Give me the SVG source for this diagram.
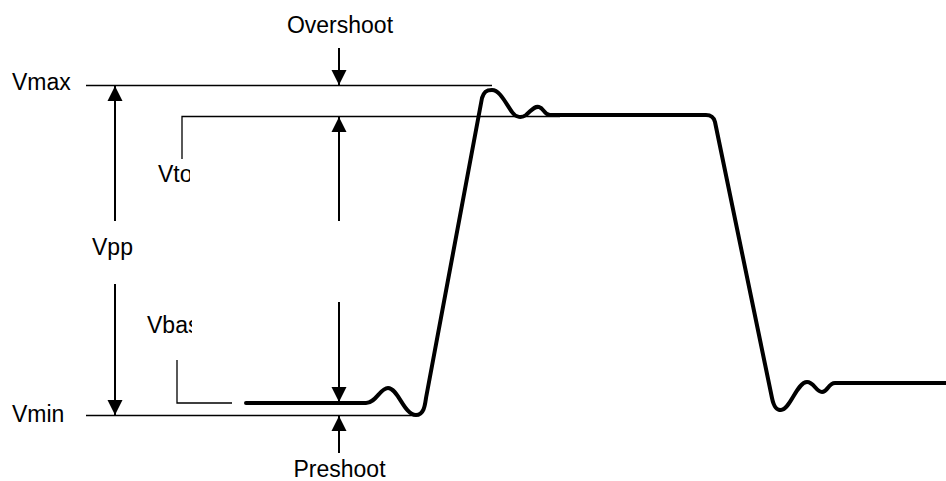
<svg xmlns="http://www.w3.org/2000/svg" width="946" height="481" viewBox="0 0 946 481">
<style>
text{font-family:"Liberation Sans",Arial,sans-serif;font-size:23px;fill:#000}
.ref{stroke:#000;stroke-width:1.6;fill:none}
.thin{stroke:#000;stroke-width:1.3;fill:none}
.arr{stroke:#000;stroke-width:2;fill:none}
.wave{stroke:#000;stroke-width:4;fill:none;stroke-linecap:round;stroke-linejoin:round}
</style>
<defs>
<marker id="ah" markerWidth="16" markerHeight="16" viewBox="0 0 16 15" refX="15" refY="7.5" orient="auto" markerUnits="userSpaceOnUse">
<path d="M0,0 L15,7.5 L0,15 Z" fill="#000"/>
</marker>
<clipPath id="cTop"><rect x="140" y="150" width="50" height="45"/></clipPath>
<clipPath id="cBase"><rect x="140" y="305" width="52" height="40"/></clipPath>
</defs>
<rect width="946" height="481" fill="#fff"/>
<g id="reference-lines">
<line class="ref" x1="86" y1="85.5" x2="492" y2="85.5"/>
<line class="ref" x1="86" y1="415.5" x2="416" y2="415.5"/>
<polyline class="thin" points="182,159 182,116.5 560,116.5"/>
<polyline class="thin" points="177,360 177,403 232,403"/>
</g>
<g id="waveform">
<path class="wave" d="M246,403 L366,403 C376,403 380,388 388,388 C398,388 404,415 416,415 C424,415 425,405 426,398 L482,98 C484,92 486,90 492,90 C500,90 506,104 512,112 C516,118 522,118 526,115 C532,110 534,106 539,107 C544,108 544,115 550,115 L706,115 C712,115 714,118 715,122 L772,398 C774,408 777,410 781,410 C790,410 797,382 807,382 C814,382 816,392 822,392 C828,392 828,383 835,383 L946,383"/>
</g>
<g id="connectors">
<line class="arr" x1="115" y1="221" x2="115" y2="86" marker-end="url(#ah)"/>
<line class="arr" x1="115" y1="284" x2="115" y2="415" marker-end="url(#ah)"/>
<line class="arr" x1="339" y1="48" x2="339" y2="85" marker-end="url(#ah)"/>
<line class="arr" x1="339" y1="453" x2="339" y2="416" marker-end="url(#ah)"/>
<line class="arr" x1="339" y1="221" x2="339" y2="117" marker-end="url(#ah)"/>
<line class="arr" x1="339" y1="302" x2="339" y2="402" marker-end="url(#ah)"/>
</g>
<g id="labels">
<text id="vmax" x="12" y="90">Vmax</text>
<text id="vmin" x="12" y="422">Vmin</text>
<text id="vpp" x="112.5" y="255" text-anchor="middle">Vpp</text>
<text id="vtop" x="158" y="182" clip-path="url(#cTop)">Vtop</text>
<text id="vbase" x="147" y="333" clip-path="url(#cBase)">Vbase</text>
<text id="overshoot" x="340" y="33" text-anchor="middle">Overshoot</text>
<text id="preshoot" x="339.5" y="477" text-anchor="middle">Preshoot</text>
</g>
</svg>
